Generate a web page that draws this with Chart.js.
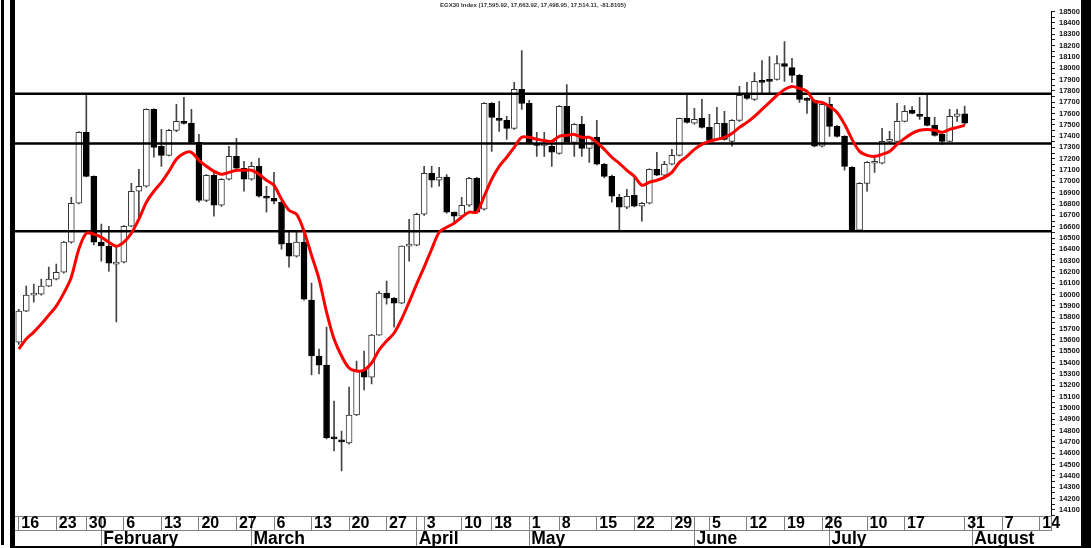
<!DOCTYPE html>
<html>
<head>
<meta charset="utf-8">
<title>EGX30 Index</title>
<script src="https://cdn.jsdelivr.net/npm/chart.js@4.4.1/dist/chart.umd.min.js"></script>
<style>
    html, body { margin: 0; padding: 0; background: #fff; }
    #graph { position: relative; width: 1091px; height: 548px; }
</style>
</head>
<body>
<div id="graph"><canvas id="visualization_div"></canvas></div>
<script>
// daily candles, one entry per trading day (16 Jan .. 31 Jul)
const opens = [15581, 15855, 15995, 16004, 16075, 16137, 16198, 16463, 16807, 17433,
    17045, 16463, 16428, 16270, 16287, 16604, 16913, 16957, 17636, 17310,
    17230, 17450, 17530, 17512, 17345, 16833, 17054, 16789, 17019, 17222,
    17116, 17019, 17133, 16869, 16851, 16816, 16454, 16340, 16463, 15952,
    15458, 15378, 14740, 14717, 14690, 14937, 15334, 15272, 15643, 16013,
    15969, 15925, 16428, 16437, 16710, 17072, 17010, 17037, 16728, 16692,
    16789, 17028, 16754, 17689, 17556, 17539, 17468, 17812, 17689, 17336,
    17318, 17310, 17248, 17662, 17345, 17503, 17292, 17389, 17151, 17045,
    16860, 16772, 16878, 16781, 16807, 17107, 17054, 17151, 17230, 17556,
    17515, 17556, 17477, 17371, 17512, 17354, 17539, 17759, 17724, 17892,
    17900, 17900, 18041, 18006, 17936, 17733, 17715, 17310, 17680, 17486,
    17398, 17124, 16569, 16983, 17160, 17160, 17354, 17354, 17530, 17627,
    17592, 17565, 17495, 17415, 17354, 17574, 17596];
const highs = [15870, 16075, 16093, 16137, 16243, 16269, 16470, 16860, 17440, 17777,
    17050, 16622, 16604, 16430, 16610, 16983, 17107, 17640, 17640, 17459,
    17460, 17680, 17742, 17636, 17415, 17060, 17080, 17025, 17310, 17380,
    17177, 17170, 17204, 16957, 17080, 16825, 16551, 16560, 16570, 16101,
    15520, 15713, 15060, 14796, 15184, 15414, 15502, 15650, 16030, 16119,
    15975, 16430, 16666, 16720, 17133, 17133, 17124, 17060, 16730, 16860,
    17035, 17035, 17695, 17695, 17706, 17574, 17874, 18156, 17715, 17433,
    17433, 17345, 17670, 17856, 17510, 17574, 17400, 17539, 17160, 17055,
    16886, 16930, 17045, 16815, 17112, 17257, 17177, 17283, 17560, 17768,
    17645, 17724, 17592, 17653, 17618, 17545, 17839, 17874, 17962, 18068,
    18103, 18112, 18235, 18086, 17945, 17740, 17720, 17685, 17742, 17495,
    17405, 17130, 16990, 17175, 17230, 17468, 17442, 17689, 17670, 17660,
    17742, 17768, 17565, 17420, 17636, 17636, 17664];
const lows = [15560, 15850, 15934, 15996, 16070, 16130, 16190, 16455, 16800, 17040,
    16440, 16296, 16207, 15758, 16280, 16600, 16666, 16950, 17213, 17133,
    17225, 17440, 17505, 17340, 16816, 16820, 16692, 16780, 17010, 17110,
    16913, 17010, 16860, 16728, 16800, 16401, 16243, 16330, 15950, 15290,
    15299, 14726, 14620, 14444, 14680, 14930, 15158, 15211, 15640, 15916,
    15713, 15920, 16296, 16430, 16700, 16948, 16957, 16720, 16630, 16685,
    16780, 16720, 16745, 17265, 17442, 17371, 17460, 17636, 17330, 17221,
    17221, 17133, 17240, 17340, 17221, 17221, 17168, 17145, 17030, 16816,
    16569, 16760, 16775, 16648, 16800, 17050, 17050, 17145, 17225, 17515,
    17505, 17470, 17355, 17365, 17365, 17310, 17530, 17725, 17715, 17768,
    17768, 17895, 17883, 17874, 17697, 17600, 17305, 17305, 17398, 17390,
    17098, 16560, 16560, 16913, 17080, 17155, 17345, 17345, 17525, 17595,
    17548, 17490, 17400, 17327, 17348, 17530, 17499];
const closes = [15855, 15996, 16005, 16075, 16137, 16198, 16463, 16807, 17433, 17045,
    16463, 16430, 16278, 16285, 16604, 16913, 16957, 17636, 17301, 17230,
    17450, 17530, 17512, 17345, 16833, 17054, 16789, 17019, 17222, 17116,
    17019, 17133, 16869, 16851, 16825, 16445, 16340, 16463, 15960, 15458,
    15378, 14735, 14726, 14700, 14937, 15334, 15272, 15643, 16013, 15969,
    15925, 16428, 16437, 16710, 17072, 17010, 17037, 16728, 16692, 16789,
    17028, 16728, 17689, 17565, 17539, 17468, 17812, 17689, 17336, 17318,
    17318, 17257, 17662, 17345, 17503, 17292, 17389, 17151, 17045, 16869,
    16772, 16869, 16781, 16807, 17107, 17054, 17151, 17230, 17556, 17521,
    17548, 17477, 17362, 17512, 17371, 17539, 17759, 17733, 17883, 17874,
    17883, 18041, 18015, 17936, 17724, 17715, 17310, 17680, 17486, 17398,
    17133, 16569, 16983, 17168, 17168, 17354, 17362, 17530, 17618, 17600,
    17574, 17495, 17406, 17354, 17574, 17596, 17514];
// red moving average
const moving_avg = [15520, 15608, 15669, 15740, 15819, 15899, 16013, 16154, 16401, 16542,
    16534, 16507, 16463, 16428, 16463, 16542, 16666, 16816, 16913, 16992,
    17089, 17195, 17248, 17257, 17186, 17133, 17089, 17063, 17080, 17098,
    17098, 17098, 17063, 17010, 16966, 16842, 16745, 16710, 16560, 16348,
    16137, 15846, 15608, 15458, 15352, 15326, 15334, 15396, 15511, 15590,
    15661, 15784, 15934, 16093, 16243, 16401, 16551, 16595, 16631, 16684,
    16728, 16728, 16869, 17019, 17133, 17213, 17301, 17389, 17389, 17371,
    17362, 17354, 17398, 17407, 17415, 17389, 17389, 17345, 17283, 17213,
    17160, 17098, 17045, 16966, 16992, 17010, 17036, 17080, 17168, 17221,
    17283, 17327, 17354, 17371, 17389, 17424, 17477, 17521, 17574, 17636,
    17698, 17759, 17812, 17839, 17821, 17795, 17706, 17698, 17662, 17609,
    17504, 17371, 17265, 17230, 17221, 17239, 17265, 17327, 17380, 17424,
    17451, 17459, 17451, 17433, 17459, 17477, 17495];
// support / resistance lines
const levels = [17775, 17335, 16560];

// x axis: trading-day slots incl. empty ones up to mid August
const slot_count = 138;
const day_ticks = ['16', '23', '30', '6', '13', '20', '27', '6', '13', '20', '27', '3', '10', '18',
    '1', '8', '15', '22', '29', '5', '12', '19', '26', '10', '17', '31', '7', '14'];
const day_tick_idx = [0, 5, 9, 14, 19, 24, 29, 34, 39, 44, 49, 54, 59, 63,
    68, 72, 77, 82, 87, 92, 97, 102, 107, 113, 118, 126, 131, 136];
const months = ['February', 'March', 'April', 'May', 'June', 'July', 'August'];
const month_idx = [11, 31, 53, 68, 90, 108, 127];

const title_text = 'EGX30 Index (17,595.92, 17,663.92, 17,498.95, 17,514.11, -81.8105)';
const FONT = "'Liberation Sans', Arial, sans-serif";
const GRID_GREY = '#808080';

const labels = [];
for (let i = 0; i < slot_count; i++) {
    labels.push(String(i));
}

const body_fill = opens.map((o, i) => closes[i] >= o ? '#ffffff' : '#000000');
const body_edge = opens.map((o, i) => closes[i] >= o ? '#333333' : '#000000');

const level_lines_plugin = {
    id: 'level_lines',
    afterDatasetDraw: (chart, args) => {
        if (args.index !== 1) return;
        const ctx = chart.ctx;
        const area = chart.chartArea;
        ctx.save();
        ctx.strokeStyle = '#000';
        ctx.lineWidth = 2.5;
        levels.forEach(v => {
            const y = chart.scales.y.getPixelForValue(v);
            ctx.beginPath();
            ctx.moveTo(area.left, y);
            ctx.lineTo(area.right, y);
            ctx.stroke();
        });
        ctx.restore();
    }
};

const frame_plugin = {
    id: 'frame',
    afterDraw: (chart) => {
        const ctx = chart.ctx;
        const area = chart.chartArea;
        const w = chart.width, h = chart.height;
        ctx.save();
        ctx.fillStyle = '#000';
        ctx.fillRect(1, 0, 3, h - 3);
        ctx.fillRect(10, 0, 5, h);
        ctx.fillRect(10, h - 2, w - 10, 2);
        ctx.fillRect(1081, 0, w - 1081, h);
        // closing edge of the day row
        ctx.strokeStyle = GRID_GREY;
        ctx.lineWidth = 1;
        ctx.beginPath();
        ctx.moveTo(Math.round(area.right) + 0.5, area.bottom);
        ctx.lineTo(Math.round(area.right) + 0.5, area.bottom + 14);
        ctx.stroke();
        ctx.restore();
    }
};

const config = {
    type: 'bar',
    data: {
        labels: labels,
        datasets: [
            {
                label: 'Range',
                data: lows.map((l, i) => [l, highs[i]]),
                backgroundColor: '#444444',
                barThickness: 1,
                grouped: false,
                order: 3
            },
            {
                label: 'Body',
                data: opens.map((o, i) => [o, closes[i]]),
                backgroundColor: body_fill,
                borderColor: body_edge,
                borderWidth: 1,
                borderSkipped: false,
                barThickness: 6,
                minBarLength: 2,
                grouped: false,
                order: 2
            },
            {
                label: 'Average',
                type: 'line',
                data: moving_avg,
                borderColor: '#ff0000',
                borderWidth: 3,
                pointRadius: 0,
                tension: 0.3,
                fill: false,
                order: 1
            }
        ]
    },
    options: {
        animation: false,
        responsive: true,
        maintainAspectRatio: false,
        devicePixelRatio: 1,
        events: [],
        layout: {
            padding: { left: 15, right: 0, top: 0, bottom: 2 }
        },
        scales: {
            x: {
                type: 'category',
                offset: true,
                weight: 0,
                grid: {
                    offset: false,
                    drawOnChartArea: false,
                    drawTicks: true,
                    tickLength: 14,
                    color: (c) => (day_tick_idx.includes(c.index) || month_idx.includes(c.index)) ? GRID_GREY : 'rgba(0,0,0,0)'
                },
                border: { display: true, color: GRID_GREY, width: 1 },
                ticks: {
                    autoSkip: false,
                    maxRotation: 0,
                    minRotation: 0,
                    align: 'start',
                    labelOffset: 2.5,
                    padding: -14.5,
                    color: '#000',
                    font: { family: FONT, size: 16, weight: 'bold', lineHeight: 1 },
                    callback: function (value, index) {
                        const k = day_tick_idx.indexOf(index);
                        return k >= 0 ? day_ticks[k] : '';
                    }
                },
                afterFit: (scale) => { scale.height = 14; }
            },
            xm: {
                type: 'category',
                position: 'bottom',
                offset: true,
                weight: 1,
                grid: {
                    offset: false,
                    drawOnChartArea: false,
                    drawTicks: true,
                    tickLength: 16,
                    color: (c) => month_idx.includes(c.index) ? GRID_GREY : 'rgba(0,0,0,0)'
                },
                border: { display: true, color: GRID_GREY, width: 1 },
                ticks: {
                    autoSkip: false,
                    maxRotation: 0,
                    minRotation: 0,
                    align: 'start',
                    labelOffset: 2,
                    padding: -15.5,
                    color: '#000',
                    font: { family: FONT, size: 17.5, weight: 'bold', lineHeight: 1 },
                    callback: function (value, index) {
                        const k = month_idx.indexOf(index);
                        return k >= 0 ? months[k] : '';
                    }
                },
                afterFit: (scale) => { scale.height = 16; }
            },
            y: {
                position: 'right',
                min: 14045,
                max: 18503,
                grid: {
                    drawOnChartArea: false,
                    drawTicks: true,
                    tickLength: 4,
                    color: '#222'
                },
                border: { display: true, color: '#000', width: 1 },
                ticks: {
                    stepSize: 50,
                    autoSkip: false,
                    includeBounds: false,
                    padding: 4,
                    color: '#111',
                    font: { family: FONT, size: 7.5, weight: 'bold' },
                    callback: (v) => (Math.round(v) % 100 === 0 ? String(Math.round(v)) : '')
                },
                afterFit: (scale) => { scale.width = 40; }
            }
        },
        plugins: {
            legend: { display: false },
            tooltip: { enabled: false },
            title: {
                display: true,
                text: title_text,
                fullSize: false,
                color: '#333',
                font: { family: FONT, size: 6, weight: 'bold' },
                padding: { top: 2, bottom: 2 }
            }
        }
    },
    plugins: [level_lines_plugin, frame_plugin]
};

const ctx = document.getElementById('visualization_div').getContext('2d');
new Chart(ctx, config);
</script>
</body>
</html>
